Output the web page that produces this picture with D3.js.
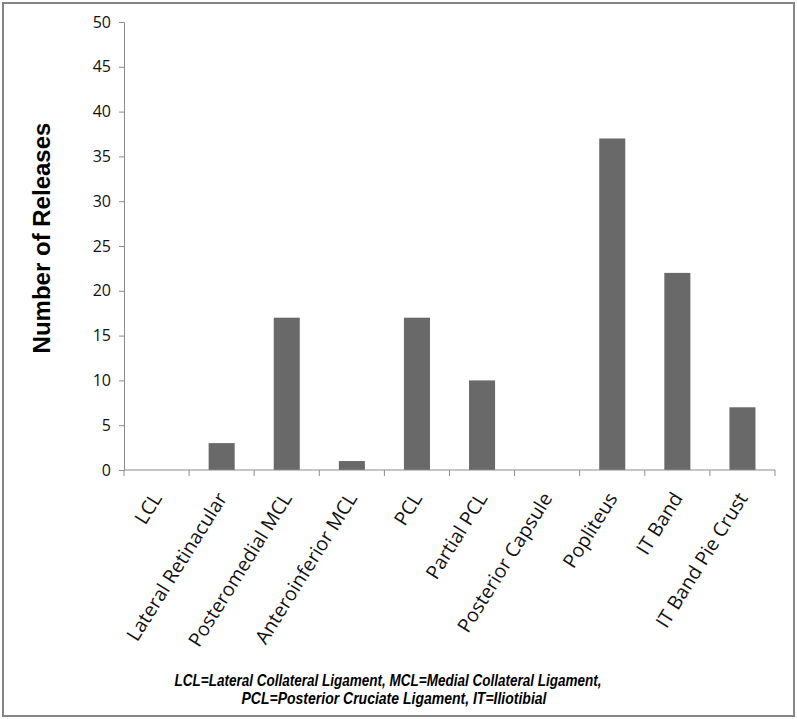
<!DOCTYPE html>
<html>
<head>
<meta charset="utf-8">
<script src="https://cdn.jsdelivr.net/npm/d3@7"></script>
<style>
  body { margin: 0; background: #fff; }
  svg { display: block; }
</style>
</head>
<body>
<svg id="chart"></svg>
<script>
const categories = ['LCL', 'Lateral Retinacular', 'Posteromedial MCL', 'Anteroinferior MCL', 'PCL',
  'Partial PCL', 'Posterior Capsule', 'Popliteus', 'IT Band', 'IT Band Pie Crust'];
const releases = [0, 3, 17, 1, 17, 10, 0, 37, 22, 7];
const yTicks = [0, 5, 10, 15, 20, 25, 30, 35, 40, 45, 50];
const footnote = ['LCL=Lateral Collateral Ligament, MCL=Medial Collateral Ligament,',
  'PCL=Posterior Cruciate Ligament, IT=Iliotibial'];

const width = 797, height = 719;
const plotLeft = 124, plotRight = 775, plotTop = 22, plotBottom = 470;
const axisColor = '#8c8c8c';

let svg = d3.select('#chart').attr('width', width).attr('height', height);

svg.append('rect')
  .attr('x', 3).attr('y', 3)
  .attr('width', 791).attr('height', 713)
  .attr('fill', 'white')
  .attr('stroke', '#858585')
  .attr('stroke-width', 2);

let x = d3.scaleBand().domain(categories).range([plotLeft, plotRight]).paddingInner(0.6).paddingOuter(0.3);
let xEdges = d3.scaleLinear().domain([0, categories.length]).range([plotLeft, plotRight]);
let y = d3.scaleLinear().domain([0, 50]).range([plotBottom, plotTop]);

// y axis
let yAxis = svg.append('g')
  .attr('transform', `translate(${plotLeft},0)`)
  .call(d3.axisLeft(y).tickValues(yTicks).tickSize(5).tickPadding(8));
yAxis.select('.domain').attr('stroke', axisColor);
yAxis.selectAll('.tick line').attr('stroke', axisColor);
yAxis.selectAll('.tick text')
  .attr('fill', '#111')
  .style('font-family', '"Open Sans", sans-serif')
  .style('font-size', '16px');

// bars
svg.append('g')
  .selectAll('rect')
  .data(releases)
  .join('rect')
  .attr('x', (d, i) => x(categories[i]))
  .attr('y', (d) => y(d))
  .attr('width', x.bandwidth())
  .attr('height', (d) => y(0) - y(d))
  .attr('fill', '#696969');

// x axis with ticks at band edges
let xg = svg.append('g');
xg.append('line')
  .attr('x1', plotLeft).attr('x2', plotRight)
  .attr('y1', plotBottom).attr('y2', plotBottom)
  .attr('stroke', axisColor);
xg.selectAll('line.tk')
  .data(d3.range(categories.length + 1))
  .join('line')
  .attr('class', 'tk')
  .attr('x1', (d) => xEdges(d)).attr('x2', (d) => xEdges(d))
  .attr('y1', plotBottom).attr('y2', plotBottom + 6)
  .attr('stroke', axisColor);

svg.append('g')
  .selectAll('text')
  .data(categories)
  .join('text')
  .attr('transform', (d) => `translate(${x(d) + x.bandwidth() / 2 + 6},${plotBottom + 28}) rotate(-58)`)
  .attr('text-anchor', 'end')
  .attr('fill', '#111')
  .style('font-family', '"Open Sans", sans-serif')
  .style('font-size', '19.5px')
  .text((d) => d);

// y axis title
svg.append('text')
  .attr('transform', `translate(50,${(plotTop + plotBottom) / 2 - 8}) rotate(-90)`)
  .attr('text-anchor', 'middle')
  .style('font-family', 'Arial, "Liberation Sans", sans-serif')
  .style('font-weight', 'bold')
  .style('font-size', '24px')
  .text('Number of Releases');

// footnote
svg.append('g')
  .selectAll('text')
  .data(footnote)
  .join('text')
  .attr('x', (d, i) => (i == 0 ? 388 : 394))
  .attr('y', (d, i) => 686 + i * 18)
  .attr('text-anchor', 'middle')
  .attr('textLength', (d, i) => (i == 0 ? 427 : 305))
  .attr('lengthAdjust', 'spacingAndGlyphs')
  .attr('fill', '#000')
  .style('font-family', 'Arial, "Liberation Sans", sans-serif')
  .style('font-weight', 'bold')
  .style('font-style', 'italic')
  .style('font-size', '16.5px')
  .text((d) => d);
</script>
</body>
</html>
